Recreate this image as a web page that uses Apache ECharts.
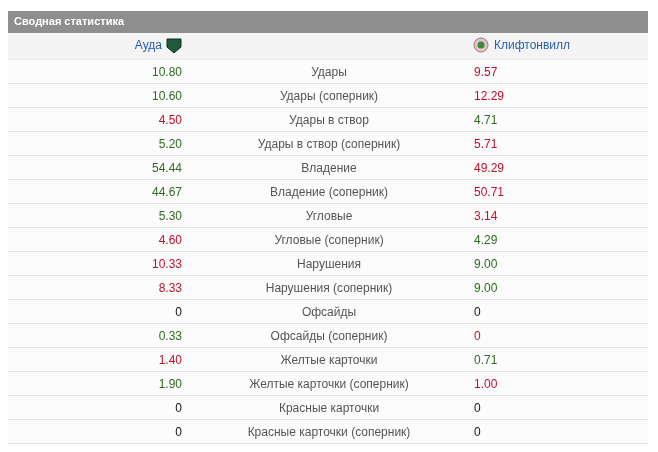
<!DOCTYPE html>
<html>
<head>
<meta charset="utf-8">
<script src="https://cdn.jsdelivr.net/npm/echarts@6/dist/echarts.min.js"></script>
<style>html,body{margin:0;padding:0;background:#fff}#main{width:658px;height:452px}</style>
</head>
<body>
<div id="main"></div>
<script>
var stats = ['Удары', 'Удары (соперник)', 'Удары в створ', 'Удары в створ (соперник)', 'Владение',
  'Владение (соперник)', 'Угловые', 'Угловые (соперник)', 'Нарушения', 'Нарушения (соперник)',
  'Офсайды', 'Офсайды (соперник)', 'Желтые карточки', 'Желтые карточки (соперник)',
  'Красные карточки', 'Красные карточки (соперник)'];
var homeValues = ['10.80', '10.60', '4.50', '5.20', '54.44', '44.67', '5.30', '4.60', '10.33', '8.33',
  '0', '0.33', '1.40', '1.90', '0', '0'];
var awayValues = ['9.57', '12.29', '4.71', '5.71', '49.29', '50.71', '3.14', '4.29', '9.00', '9.00',
  '0', '0', '0.71', '1.00', '0', '0'];
// g = better, r = worse, k = neutral
var homeMarks = ['g', 'g', 'r', 'g', 'g', 'g', 'g', 'r', 'r', 'r', 'k', 'g', 'r', 'g', 'k', 'k'];
var awayMarks = ['r', 'r', 'g', 'r', 'r', 'r', 'r', 'g', 'g', 'g', 'k', 'r', 'g', 'r', 'k', 'k'];
var homeTeam = 'Ауда';
var awayTeam = 'Клифтонвилл';
var title = 'Сводная статистика';

var colors = { g: '#2e6b1f', r: '#c0102a', k: '#111' };
var font = '12px "Liberation Sans", Arial, sans-serif';

var chart = echarts.init(document.getElementById('main'));

chart.setOption({
  animation: false,
  grid: { left: 8, right: 10, top: 60, bottom: 8 },
  xAxis: { type: 'value', min: 0, max: 1, show: false },
  yAxis: { type: 'category', data: stats, inverse: true, show: false },
  graphic: [
    { type: 'rect', shape: { x: 8, y: 11, width: 640, height: 22 }, style: { fill: '#8e8e8e' } },
    { type: 'text', x: 14, y: 22, style: { text: title, font: 'bold 11px "Liberation Sans", Arial, sans-serif', fill: '#fff', verticalAlign: 'middle' } },
    { type: 'rect', shape: { x: 8, y: 33, width: 640, height: 25 }, style: { fill: '#f4f4f4' } },
    { type: 'line', shape: { x1: 8, y1: 59, x2: 648, y2: 59 }, style: { stroke: '#e2e2e2', lineWidth: 1 } },
    { type: 'text', x: 162, y: 46, style: { text: homeTeam, font: font, fill: '#2a5db0', align: 'right', verticalAlign: 'middle' } },
    { type: 'polygon', shape: { points: [[167, 39], [181, 39], [181, 47], [174, 53], [167, 47]] }, style: { fill: '#1f5a3a', stroke: '#0d2e1c' } },
    { type: 'circle', shape: { cx: 481, cy: 45, r: 7 }, style: { fill: '#d9c9c9', stroke: '#b07070', lineWidth: 1 } },
    { type: 'circle', shape: { cx: 481, cy: 45, r: 3.5 }, style: { fill: '#3d8a3d' } },
    { type: 'text', x: 494, y: 46, style: { text: awayTeam, font: font, fill: '#2a5db0', align: 'left', verticalAlign: 'middle' } }
  ],
  series: [{
    type: 'custom',
    data: stats.map(function (s, i) { return [0, i]; }),
    renderItem: function (params, api) {
      var i = params.dataIndex;
      var c = api.coord([0, i]);
      var size = api.size([0, 1]);
      var cs = params.coordSys;
      var y = c[1];
      var h = size[1];
      return {
        type: 'group',
        children: [
          { type: 'rect', shape: { x: cs.x, y: y - h / 2, width: cs.width, height: h }, style: { fill: '#fcfcfc' } },
          { type: 'line', shape: { x1: cs.x, y1: y + h / 2 - 0.5, x2: cs.x + cs.width, y2: y + h / 2 - 0.5 }, style: { stroke: '#e4e4e4', lineWidth: 1 } },
          { type: 'text', x: 182, y: y + 1, style: { text: homeValues[i], font: font, fill: colors[homeMarks[i]], align: 'right', verticalAlign: 'middle' } },
          { type: 'text', x: 329, y: y + 1, style: { text: stats[i], font: font, fill: '#555', align: 'center', verticalAlign: 'middle' } },
          { type: 'text', x: 474, y: y + 1, style: { text: awayValues[i], font: font, fill: colors[awayMarks[i]], align: 'left', verticalAlign: 'middle' } }
        ]
      };
    }
  }]
});
</script>
</body>
</html>
